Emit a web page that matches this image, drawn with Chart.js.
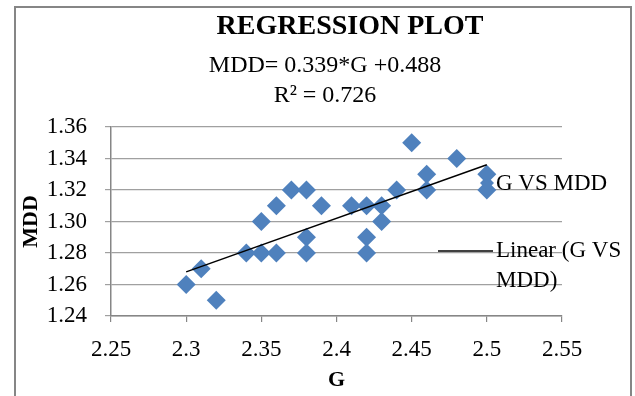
<!DOCTYPE html>
<html>
<head>
<meta charset="utf-8">
<script src="https://cdn.jsdelivr.net/npm/chart.js@4.4.0/dist/chart.umd.min.js"></script>
<style>
  html, body { margin: 0; padding: 0; background: #fff; }
</style>
</head>
<body>
<canvas id="myChart" width="635" height="396"></canvas>
<script>
// values
const gValues   = [2.30, 2.31, 2.32, 2.34, 2.35, 2.35, 2.36, 2.36, 2.37, 2.38, 2.38, 2.38, 2.39,
                   2.41, 2.42, 2.42, 2.42, 2.43, 2.43, 2.44, 2.45, 2.46, 2.46, 2.48, 2.50, 2.50];
const mddValues = [1.26, 1.27, 1.25, 1.28, 1.30, 1.28, 1.31, 1.28, 1.32, 1.32, 1.29, 1.28, 1.31,
                   1.31, 1.31, 1.29, 1.28, 1.31, 1.30, 1.32, 1.35, 1.33, 1.32, 1.34, 1.33, 1.32];
const trendG   = [2.30, 2.50];
const trendMdd = [1.268, 1.336];

const xTickLabels = ['2.25', '2.3', '2.35', '2.4', '2.45', '2.5', '2.55'];
const yTickLabels = ['1.24', '1.26', '1.28', '1.30', '1.32', '1.34', '1.36'];

const chartTitle = 'REGRESSION PLOT';
const equationLines = ['MDD= 0.339*G +0.488', 'R\u00b2 = 0.726'];
const seriesNames = ['G VS MDD', 'Linear (G VS MDD)'];

const serif = "'Liberation Serif', 'Times New Roman', serif";
const blue = '#4f81bd';
const gridGray = '#a0a0a0';
const axisGray = '#868686';

const ctx = document.getElementById('myChart');

function wrapText(c, text, maxW) {
    let words = text.split(' ');
    let lines = [];
    let cur = '';
    words.forEach((w) => {
        let test = cur ? cur + ' ' + w : w;
        if (cur && c.measureText(test).width > maxW) {
            lines.push(cur);
            cur = w;
        } else {
            cur = test;
        }
    });
    if (cur) lines.push(cur);
    return lines;
}

const excelFrame = {
    id: 'excelFrame',
    beforeDraw(chart) {
        const c = chart.ctx;
        c.save();
        c.fillStyle = '#fff';
        c.fillRect(0, 0, chart.width, chart.height);
        c.strokeStyle = axisGray;
        c.lineWidth = 2;
        c.strokeRect(15, 7, 616, 400);
        c.restore();
    },
    afterDraw(chart) {
        const c = chart.ctx;
        c.save();
        c.fillStyle = '#000';
        c.textBaseline = 'middle';
        c.textAlign = 'center';

        // title
        c.font = 'bold 28px ' + serif;
        c.fillText(chartTitle, 350, 27);

        // trendline equation
        c.font = '24px ' + serif;
        c.fillText(equationLines[0], 325, 66);
        c.fillText(equationLines[1], 325, 96);

        // legend, overlapping the plot like the original
        c.textAlign = 'left';
        c.font = '23px ' + serif;
        const ds = chart.data.datasets;

        // marker entry
        c.fillStyle = ds[0].backgroundColor;
        c.beginPath();
        c.moveTo(487 - 7, 183);
        c.lineTo(487, 183 - 7);
        c.lineTo(487 + 7, 183);
        c.lineTo(487, 183 + 7);
        c.closePath();
        c.fill();
        c.fillStyle = '#000';
        c.fillText(seriesNames[0], 496, 184);

        // line entry
        c.strokeStyle = ds[1].borderColor;
        c.lineWidth = 1.5;
        c.beginPath();
        c.moveTo(438, 251);
        c.lineTo(493, 251);
        c.stroke();
        wrapText(c, seriesNames[1], 134).forEach((line, i) => {
            c.fillText(line, 496, 251 + i * 30);
        });
        c.restore();
    }
};

function fixedTicks(labels) {
    return function (scale) {
        scale.ticks = labels.map((l) => ({ value: parseFloat(l), label: l }));
    };
}

let regressionChart = new Chart(ctx, {
    type: 'scatter',
    data: {
        datasets: [{
            label: seriesNames[0],
            data: gValues.map((g, i) => ({ x: g, y: mddValues[i] })),
            pointStyle: 'rectRot',
            pointRadius: 9.5,
            pointHoverRadius: 9.5,
            backgroundColor: blue,
            borderColor: blue,
            borderWidth: 0,
            order: 1
        }, {
            label: seriesNames[1],
            data: trendG.map((g, i) => ({ x: g, y: trendMdd[i] })),
            showLine: true,
            borderColor: '#000',
            borderWidth: 1.5,
            pointRadius: 0,
            order: 0
        }]
    },
    options: {
        responsive: false,
        animation: false,
        layout: {
            padding: { left: 0, top: 127, right: 73, bottom: 0 }
        },
        scales: {
            x: {
                type: 'linear',
                min: 2.25,
                max: 2.55,
                afterBuildTicks: fixedTicks(xTickLabels),
                afterFit: (scale) => { scale.height = 80; },
                ticks: {
                    font: { family: serif, size: 23 },
                    color: '#000',
                    padding: 14,
                    maxRotation: 0,
                    callback: (v, i) => xTickLabels[i]
                },
                grid: {
                    drawOnChartArea: false,
                    tickLength: 6,
                    color: axisGray,
                    lineWidth: 1.2
                },
                border: { color: axisGray, width: 1.5 },
                title: {
                    display: true,
                    text: 'G',
                    font: { family: serif, size: 22, weight: 'bold' },
                    color: '#000',
                    padding: { top: 0, bottom: 2 }
                }
            },
            y: {
                min: 1.24,
                max: 1.36,
                afterBuildTicks: fixedTicks(yTickLabels),
                afterFit: (scale) => { scale.width = 111; },
                ticks: {
                    font: { family: serif, size: 23 },
                    color: '#000',
                    padding: 18,
                    callback: (v, i) => yTickLabels[i]
                },
                grid: {
                    tickLength: 6,
                    color: gridGray,
                    lineWidth: 1.2
                },
                border: { color: axisGray, width: 1.5 },
                title: {
                    display: true,
                    text: 'MDD',
                    font: { family: serif, size: 22, weight: 'bold' },
                    color: '#000',
                    padding: { top: 18, bottom: 0 }
                }
            }
        },
        plugins: {
            legend: { display: false },
            title: { display: false },
            tooltip: { enabled: false }
        }
    },
    plugins: [excelFrame]
});
</script>
</body>
</html>
